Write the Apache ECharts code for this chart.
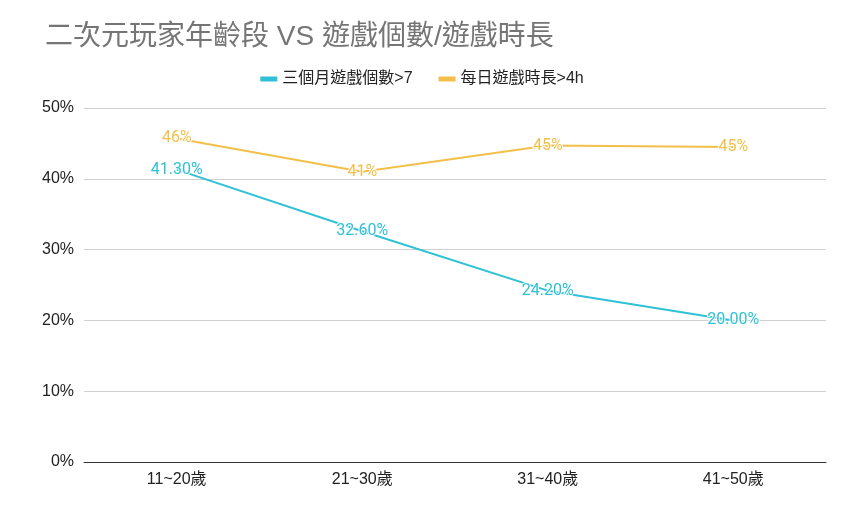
<!DOCTYPE html>
<html><head><meta charset="utf-8">
<script src="https://cdn.jsdelivr.net/npm/echarts@6/dist/echarts.min.js"></script>
<style>html,body{margin:0;padding:0;background:#fff}#c{width:844px;height:510px}</style>
</head><body><div id="c"></div>
<script>
var categories = ['11~20歲', '21~30歲', '31~40歲', '41~50歲'];
var gameCount = [41.3, 32.6, 24.2, 20.0];
var gameHours = [45.7, 41.0, 44.7, 44.5];
var seriesNames = ['三個月遊戲個數>7', '每日遊戲時長>4h'];
var yTicks = [0, 10, 20, 30, 40, 50];

var chart = echarts.init(document.getElementById('c'));
var cjk = '"Liberation Sans", "Noto Sans CJK TC", sans-serif';
var lblFont = 'Roboto, "Noto Sans CJK TC", sans-serif';
chart.setOption({
  animation: false,
  title: {
    text: '二次元玩家年齡段 VS 遊戲個數/遊戲時長',
    left: 40, top: 18,
    textStyle: {fontSize: 28, fontWeight: 'normal', color: '#757575', fontFamily: cjk}
  },
  legend: {
    top: 66, left: 'center',
    itemWidth: 17, itemHeight: 5, itemGap: 26,
    icon: 'rect',
    textStyle: {fontSize: 16, color: '#222', fontFamily: cjk},
    data: seriesNames
  },
  grid: {left: 84, right: 18, top: 108, bottom: 48},
  xAxis: {
    type: 'category', data: categories, boundaryGap: true,
    axisLine: {lineStyle: {color: '#333', width: 1}},
    axisTick: {show: false},
    axisLabel: {fontSize: 16, color: '#222', margin: 10, fontFamily: cjk}
  },
  yAxis: {
    type: 'value', min: yTicks[0], max: yTicks[yTicks.length - 1], interval: 10,
    axisLabel: {formatter: '{value}%', fontSize: 16, color: '#222', margin: 10, fontFamily: cjk},
    axisLine: {show: false}, axisTick: {show: false},
    splitLine: {lineStyle: {color: '#d0d0d0'}}
  },
  series: [
    {
      name: seriesNames[0], type: 'line', data: gameCount,
      symbol: 'circle', symbolSize: 0, showSymbol: true,
      lineStyle: {color: '#2fc1d6', width: 2}, itemStyle: {color: '#2fc1d6'},
      label: {
        show: true, position: 'inside', offset: [0, 0],
        formatter: function (p) { return p.value.toFixed(2) + '%'; },
        color: '#2fc1d6', fontSize: 16, fontWeight: 'normal', fontFamily: lblFont,
        textBorderColor: '#fff', textBorderWidth: 2
      }
    },
    {
      name: seriesNames[1], type: 'line', data: gameHours,
      symbol: 'circle', symbolSize: 0, showSymbol: true,
      lineStyle: {color: '#f2c04a', width: 2}, itemStyle: {color: '#f2c04a'},
      label: {
        show: true, position: 'inside', offset: [0, 0],
        formatter: function (p) { return Math.round(p.value) + '%'; },
        color: '#f2c04a', fontSize: 16, fontWeight: 'normal', fontFamily: lblFont,
        textBorderColor: '#fff', textBorderWidth: 2
      }
    }
  ]
});
</script></body></html>
